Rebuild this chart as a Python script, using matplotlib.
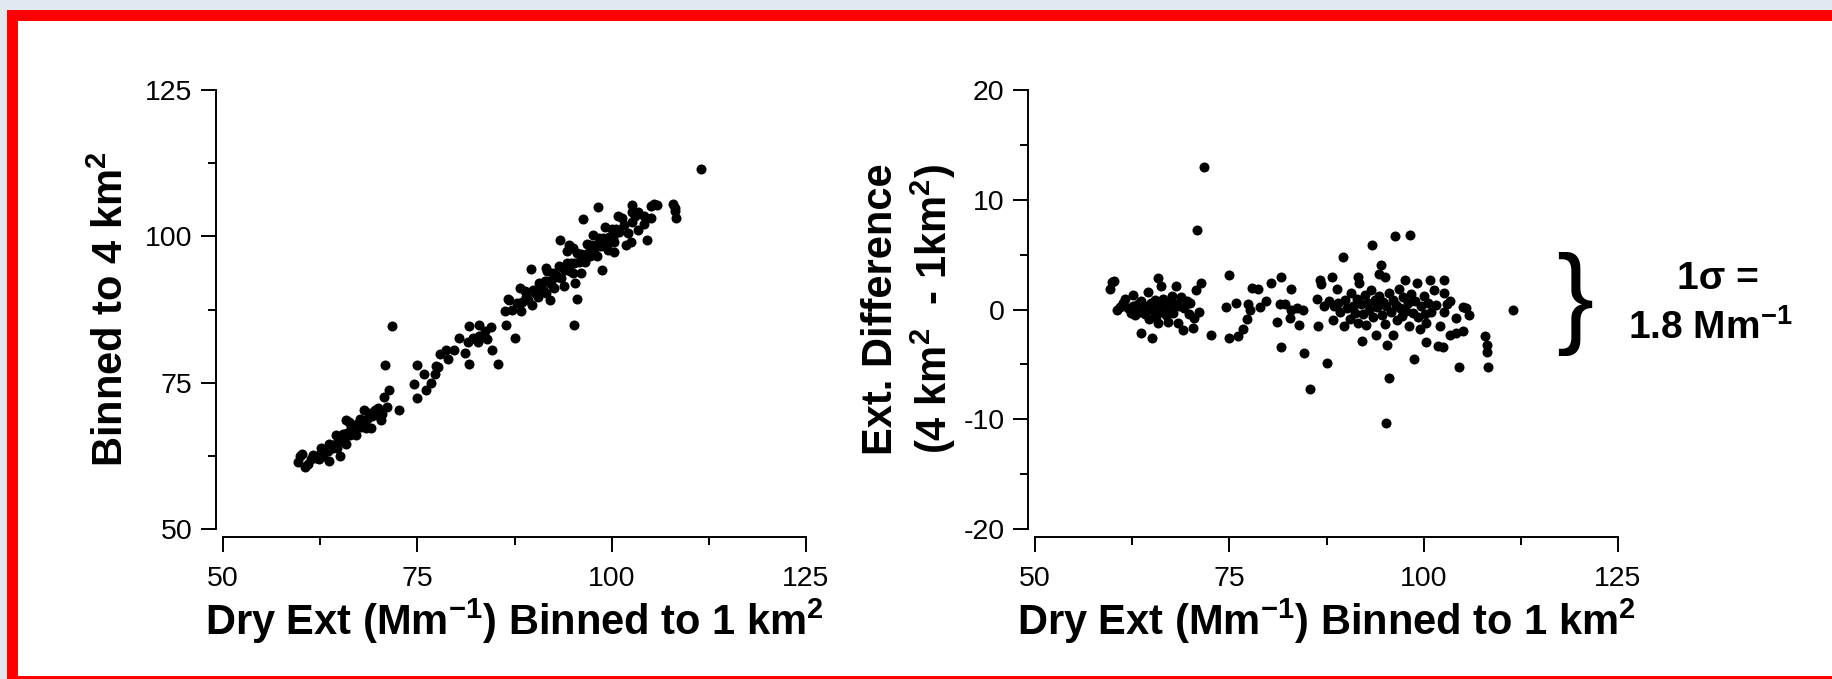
import matplotlib
matplotlib.use("Agg")
import matplotlib.pyplot as plt
from matplotlib.patches import Rectangle
from matplotlib.ticker import MultipleLocator

plt.rcParams['font.family'] = ['Liberation Sans', 'DejaVu Sans']
plt.rcParams['mathtext.default'] = 'regular'
plt.rcParams['axes.unicode_minus'] = False

# dry extinction binned to 1 km2 (Mm-1)
ext_1km = [59.6, 59.9, 60.2, 60.6, 60.9, 61.3, 61.6, 62.0, 62.3, 62.6, 62.6, 62.9, 63.2, 63.5,
           63.7, 63.7, 64.0, 64.2, 64.5, 64.5, 64.7, 64.9, 65.0, 65.2, 65.4, 65.6, 65.8, 65.8,
           66.0, 66.2, 66.3, 66.5, 66.7, 66.9, 67.1, 67.2, 67.4, 67.6, 67.8, 68.0, 68.2, 68.4,
           68.5, 68.8, 69.1, 69.2, 69.5, 69.8, 70.0, 70.3, 70.4, 70.7, 70.9, 71.1, 71.3, 71.7,
           72.6,
           74.6, 75.0, 75.0, 75.9, 76.1, 76.7, 77.3, 77.4, 77.7, 77.9, 78.7, 78.9, 79.7, 80.3,
           81.1, 81.5, 81.6, 81.7, 82.1, 82.8, 82.9, 82.9, 83.7, 83.9, 84.5, 84.6, 85.4, 86.3,
           86.4, 86.6, 86.8, 87.5, 87.2, 87.8,
           88.2, 88.3, 88.8, 88.5, 89.0, 89.3, 89.6, 89.7, 89.9, 90.2, 90.5, 90.6, 90.9, 91.2,
           91.4, 91.6, 91.6, 91.7, 91.9, 92.1, 92.2, 92.4, 92.6, 92.8, 93.0, 93.2, 93.4, 93.5,
           93.7, 93.9, 94.0, 94.3, 94.3, 94.5, 94.6, 94.8, 95.0, 95.0, 95.1, 95.2, 95.3, 95.5,
           95.6, 95.8, 96.0, 96.1, 96.3, 96.4, 96.6, 96.8, 97.0, 97.2, 97.4, 97.6, 97.7, 98.0,
           98.1, 98.2, 98.4, 98.6, 98.8, 98.9, 99.2, 99.3, 99.5, 99.6, 100.0, 100.2, 100.3, 100.3,
           100.6, 100.8, 101.0, 101.3, 101.6, 101.8, 102.1, 102.5, 102.6, 102.6, 102.6, 103.0,
           103.4, 103.4, 104.2, 104.2, 104.5, 105.0, 105.1, 105.5, 105.8, 107.9, 108.1, 108.2,
           108.3, 111.5]

# extinction difference (4 km2 - 1 km2)
ext_diff = [1.9, 2.5, 2.6, 0.0, 0.2, 0.6, 1.0, 0.1, -0.3, 1.3, 0.3, -0.5, 0.5, -0.2,
            0.8, -2.1, 0.3, -0.4, 1.6, 0.1, -0.9, 0.6, -2.6, 0.0, 0.9, -0.6, 2.9, -1.2,
            0.4, 2.1, -0.2, 1.0, 0.2, -0.5, -1.1, 0.7, 0.0, 1.2, -0.3, 0.5, 2.1, -1.2,
            0.3, 1.1, -1.9, 0.1, 0.8, -0.4, 0.6, -1.7, -0.8, 1.8, 7.2, -0.2, 2.4, 13.0,
            -2.3,
            0.2, 3.1, -2.6, 0.6, -2.4, -1.8, -0.9, 0.5, 0.0, 2.0, 1.9, 0.2, 0.8, 2.4,
            -1.1, 0.5, -3.4, 3.0, 0.5, -0.8, 1.9, 0.0, 0.1, -1.4, 0.0, -4.0, -7.2, 1.0,
            -1.5, 2.7, 2.3, -4.9, 0.3, 0.8,
            3.0, -1.0, 1.9, 0.3, 0.6, -0.2, 4.8, -1.5, 0.9, 0.1, -0.9, 1.5, 0.3, -0.3,
            1.0, 3.0, -1.2, 2.4, 0.5, -2.9, -0.4, 1.3, -1.4, 0.6, 0.0, 1.8, 5.9, -0.7,
            0.9, -2.3, 0.2, 3.2, 1.2, 4.1, -0.5, 0.7, 3.0, -1.3, -10.3, 0.3, -3.2, -6.2,
            1.5, -0.2, 0.9, -2.3, 6.7, 0.4, -1.0, 1.9, 0.1, -0.6, 1.1, 2.7, -0.1, 0.6,
            -1.5, 6.8, 1.4, -0.3, -4.5, 0.8, 2.4, -0.7, -1.8, 0.3, 1.2, -0.4, -1.2, -3.0,
            0.6, 2.7, -0.2, 1.8, 0.4, -3.3, -1.5, -3.4, 2.7, 1.5, -0.2, 0.5,
            0.8, -2.3, -0.8, -2.1, -5.2, 0.2, -2.0, 0.1, -0.5, -2.4, -3.2, -3.9,
            -5.2, 0.0]

# binned to 4 km2 = 1 km2 value plus the difference
ext_4km = [a + d for a, d in zip(ext_1km, ext_diff)]

fig = plt.figure(figsize=(18.32, 6.79), dpi=100, facecolor='#e2e8ef')

# red frame
frame = Rectangle((11.5 / 1832, -1.5 / 679), 1.2, 666 / 679, transform=fig.transFigure,
                  facecolor='white', edgecolor='#ff0000', linewidth=7.9, zorder=-10)
fig.patches.append(frame)


def style_axes(ax, ymin, ymax, ymajor, yminor):
    ax.set_facecolor('none')
    ax.set_xlim(50, 125)
    ax.set_ylim(ymin, ymax)
    ax.spines['top'].set_visible(False)
    ax.spines['right'].set_visible(False)
    ax.spines['left'].set_position(('outward', 5))
    ax.spines['bottom'].set_position(('outward', 6))
    ax.spines['left'].set_bounds(ymin, ymax)
    ax.spines['bottom'].set_bounds(50, 125)
    for s in ['left', 'bottom']:
        ax.spines[s].set_linewidth(1.4)
    ax.xaxis.set_major_locator(MultipleLocator(25))
    ax.xaxis.set_minor_locator(MultipleLocator(12.5))
    ax.yaxis.set_major_locator(MultipleLocator(ymajor))
    ax.yaxis.set_minor_locator(MultipleLocator(yminor))
    ax.tick_params(which='major', length=11, width=1.4, labelsize=20.5)
    ax.tick_params(which='minor', length=6, width=1.4)
    ax.tick_params(axis='x', which='major', pad=10)
    ax.tick_params(axis='y', which='major', pad=6)
    ax.set_xlabel(r'Dry Ext (Mm$^{-1}$) Binned to 1 km$^{2}$', fontsize=30,
                  fontweight='bold', labelpad=3)


ax1 = fig.add_axes([223 / 1832, 150 / 679, 583 / 1832, 439 / 679])
style_axes(ax1, 50, 125, 25, 12.5)
ax1.scatter(ext_1km, ext_4km, s=52, color='black', linewidths=0)
ax1.set_ylabel(r'Binned to 4 km$^{2}$', fontsize=30, fontweight='bold', labelpad=9)

ax2 = fig.add_axes([1035 / 1832, 150 / 679, 583 / 1832, 439 / 679])
style_axes(ax2, -20, 20, 10, 5)
ax2.scatter(ext_1km, ext_diff, s=52, color='black', linewidths=0)
ax2.set_ylabel('Ext. Difference\n' + r'(4 km$^{2}$  - 1km$^{2}$)', fontsize=30,
               fontweight='bold', labelpad=4, linespacing=1.2)

# 1 sigma annotation
fig.text(1575 / 1832, 1 - 304 / 679, '}', fontsize=80, ha='center', va='center')
fig.text(1718 / 1832, 1 - 279 / 679, '1σ =', fontsize=28, fontweight='bold',
         ha='center', va='center')
fig.text(1710 / 1832, 1 - 328 / 679, r'1.8 Mm$^{-1}$', fontsize=28, fontweight='bold',
         ha='center', va='center')

fig.savefig('out.png', dpi=100, facecolor=fig.get_facecolor())
